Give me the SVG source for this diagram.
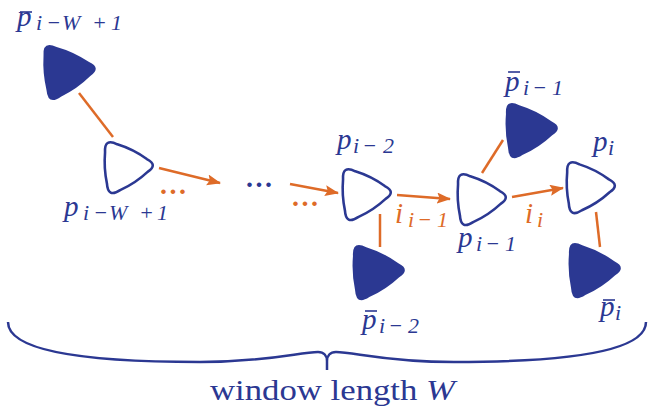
<svg xmlns="http://www.w3.org/2000/svg" width="649" height="410" viewBox="0 0 649 410">
<defs>
<path id="tri" d="M0,-17 Q-2.5,0 0,17 Q0,33 13.85,24.98 Q30.87,18.6 44.88,7.01 Q57,0 44.88,-7.01 Q30.87,-18.6 13.85,-24.98 Q0,-33 0,-17 Z"/>
<marker id="ah" markerUnits="userSpaceOnUse" markerWidth="15" markerHeight="12" refX="13" refY="5.5" orient="auto">
<path d="M0,0 L14,5.5 L0,11 L2.5,5.5 Z" fill="#DE6B28"/>
</marker>
</defs>
<style>
.f{fill:#2B3892;}
.o{fill:#fff;stroke:#2B3892;stroke-width:2.8;}
.c{stroke:#DE6B28;stroke-width:2.5;fill:none;}
.s{font-family:"Liberation Serif",serif;}
.m{font-family:"Liberation Serif",serif;font-style:italic;fill:#2B3892;}
.mo{font-family:"Liberation Serif",serif;font-style:italic;fill:#DE6B28;}
.big{font-size:29px;}
.sub{font-size:22px;}
.bar{stroke:#2B3892;stroke-width:1.6;}
.dots{font-family:"Liberation Serif",serif;font-size:28px;font-weight:bold;}
</style>
<rect width="649" height="410" fill="#fff"/>

<g id="connectors">
<line class="c" x1="79" y1="93" x2="113" y2="137"/>
<line class="c" x1="159" y1="168" x2="220" y2="183" marker-end="url(#ah)"/>
<line class="c" x1="290" y1="184" x2="338" y2="193" marker-end="url(#ah)"/>
<line class="c" x1="380" y1="214" x2="380" y2="247"/>
<line class="c" x1="397" y1="195" x2="450" y2="199" marker-end="url(#ah)"/>
<line class="c" x1="482" y1="173" x2="503" y2="140"/>
<line class="c" x1="512" y1="197" x2="563" y2="188" marker-end="url(#ah)"/>
<line class="c" x1="596" y1="212" x2="600" y2="247"/>
</g>

<g id="dots">
<text class="dots" x="160" y="194" fill="#DE6B28" textLength="26">...</text>
<text class="dots" x="246" y="187" fill="#2B3892" textLength="26">...</text>
<text class="dots" x="292" y="206" fill="#DE6B28" textLength="26">...</text>
</g>

<g id="pbar-iW1">
<use href="#tri" class="f" transform="translate(45,73) rotate(-5)"/>
<text class="m big" x="17" y="26">p</text>
<line class="bar" x1="20" y1="12" x2="32" y2="12"/>
<text class="m sub" x="36 46 62 92 111" y="30">i−W+1</text>
</g>

<g id="p-iW1">
<use href="#tri" class="o" transform="translate(106,168) rotate(-3.5) scale(0.92)"/>
<text class="m big" x="64" y="216">p</text>
<text class="m sub" x="83 93 109 139 157" y="220">i−W+1</text>
</g>

<g id="p-i2">
<use href="#tri" class="o" transform="translate(344,195) rotate(-3.5) scale(0.92)"/>
<text class="m big" x="337" y="149">p</text>
<text class="m sub" x="353 362 383" y="153">i−2</text>
</g>

<g id="pbar-i2">
<use href="#tri" class="f" transform="translate(354,273) rotate(-3.5)"/>
<text class="m big" x="362" y="329">p</text>
<line class="bar" x1="365" y1="311" x2="377" y2="311"/>
<text class="m sub" x="379 388 408" y="333">i−2</text>
</g>

<g id="i-label1">
<text class="mo big" x="395" y="223">i</text>
<text class="mo sub" x="408 417 437" y="227">i−1</text>
</g>

<g id="p-i1">
<use href="#tri" class="o" transform="translate(459,200) rotate(-3.5) scale(0.92)"/>
<text class="m big" x="458" y="247">p</text>
<text class="m sub" x="476 485 505" y="251">i−1</text>
</g>

<g id="pbar-i1">
<use href="#tri" class="f" transform="translate(507,131) rotate(-3.5)"/>
<text class="m big" x="505" y="91">p</text>
<line class="bar" x1="508" y1="72" x2="520" y2="72"/>
<text class="m sub" x="523 532 552" y="95">i−1</text>
</g>

<g id="i-label2">
<text class="mo big" x="525" y="223">i</text>
<text class="mo sub" x="537" y="227">i</text>
</g>

<g id="p-i">
<use href="#tri" class="o" transform="translate(568,188) rotate(-3) scale(0.92)"/>
<text class="m big" x="593" y="151">p</text>
<text class="m sub" x="608" y="155">i</text>
</g>

<g id="pbar-i">
<use href="#tri" class="f" transform="translate(570,271) rotate(-3.5)"/>
<text class="m big" x="600" y="316">p</text>
<line class="bar" x1="603" y1="300" x2="615" y2="300"/>
<text class="m sub" x="615" y="320">i</text>
</g>

<g id="brace">
<path d="M8,322 C8,352 90,362 200,362 C268,362 300,352 318,352 C324,352 327,356 327,361 L327,370 M646,322 C646,352 564,362 454,362 C386,362 354,352 336,352 C330,352 327,356 327,361" fill="none" stroke="#2B3892" stroke-width="2.5"/>
<text class="s" x="210" y="400" font-size="30" fill="#2B3892" textLength="245" lengthAdjust="spacingAndGlyphs">window length <tspan font-style="italic">W</tspan></text>
</g>
</svg>
